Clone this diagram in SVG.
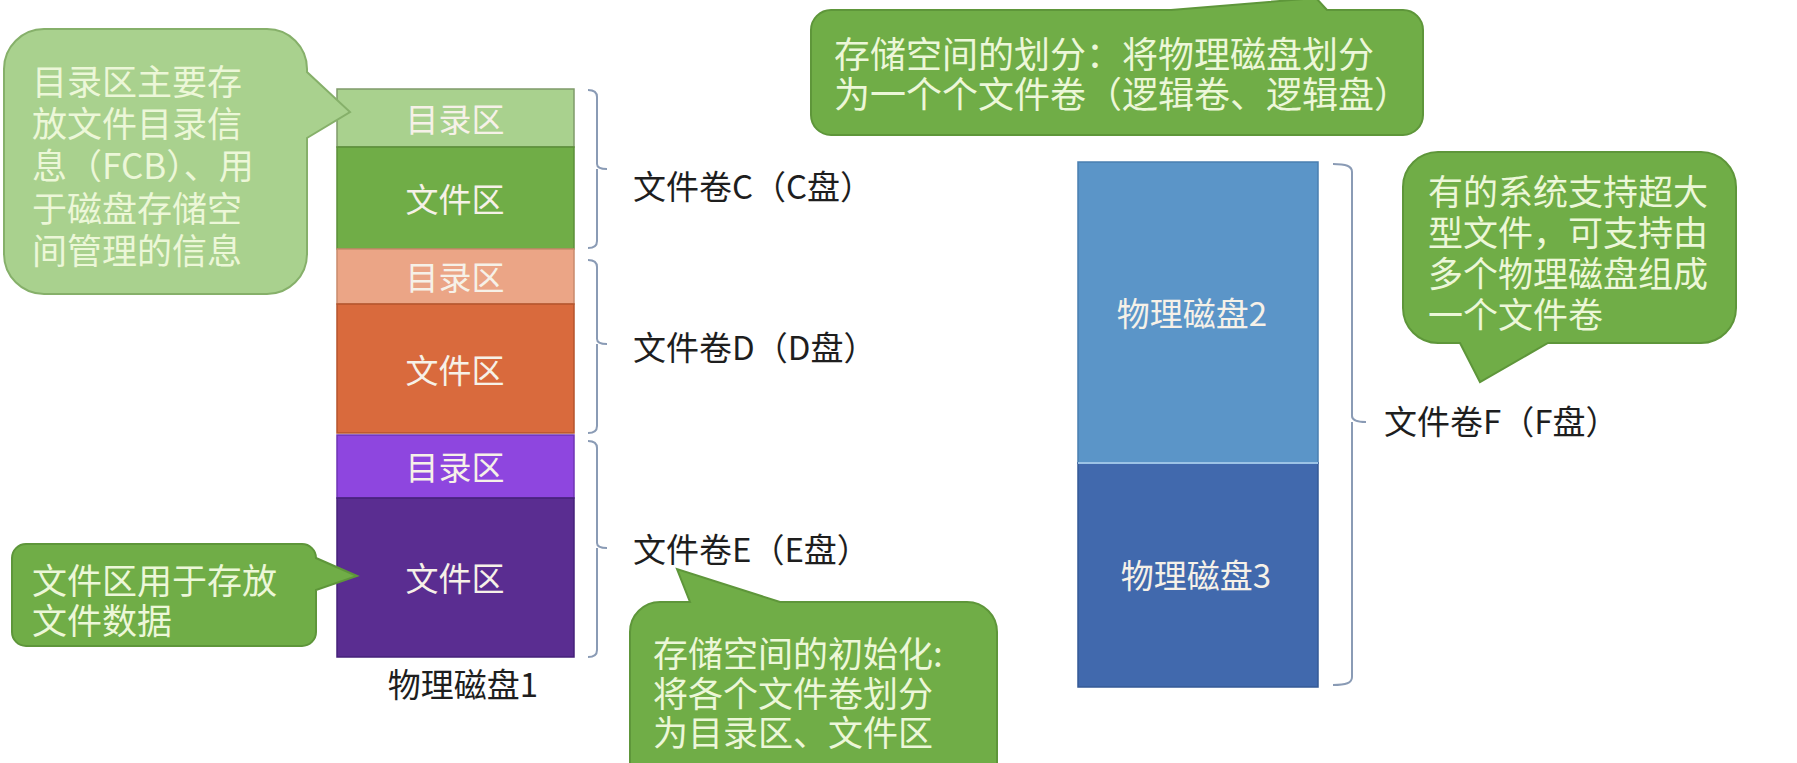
<svg xmlns="http://www.w3.org/2000/svg" width="1797" height="763" viewBox="0 0 1797 763">
<style>
  text { font-family: "Noto Sans CJK SC", "Noto Sans", sans-serif; }
  .seg { stroke-width: 1.5; }
  .segtxt { font-size: 33px; fill: #f6f1e8; text-anchor: middle; dominant-baseline: central; }
  .lbl { font-size: 33px; fill: #1e1e1e; dominant-baseline: central; }
  .call { fill: #70ad47; stroke: #5e963a; stroke-width: 2; }
  .call-light { fill: #a9d18e; stroke: #86b06a; stroke-width: 2; }
  .ctxt { font-size: 35px; fill: #ecf7d8; dominant-baseline: central; }
  .brace { fill: none; stroke: #8a9bb5; stroke-width: 2; }
</style>

<g id="disk1">
  <rect class="seg" x="337" y="89" width="237" height="58" fill="#a9d18e" stroke="#7f9a6a"/>
  <rect class="seg" x="337" y="147" width="237" height="102" fill="#70ad47" stroke="#5b8f38"/>
  <rect class="seg" x="337" y="249" width="237" height="55" fill="#eba586" stroke="#c98a6c"/>
  <rect class="seg" x="337" y="304" width="237" height="129" fill="#d96a3d" stroke="#b5542c"/>
  <rect class="seg" x="337" y="435" width="237" height="63" fill="#8e46df" stroke="#6f34b5"/>
  <rect class="seg" x="337" y="498" width="237" height="159" fill="#5a2d91" stroke="#45207a"/>
  <text class="segtxt" x="455" y="118">目录区</text>
  <text class="segtxt" x="455" y="198">文件区</text>
  <text class="segtxt" x="455" y="276">目录区</text>
  <text class="segtxt" x="455" y="369">文件区</text>
  <text class="segtxt" x="455" y="466">目录区</text>
  <text class="segtxt" x="455" y="577">文件区</text>
  <text class="lbl" x="463" y="683" text-anchor="middle">物理磁盘1</text>
</g>

<g id="disk2">
  <rect class="seg" x="1078" y="162" width="240" height="301" fill="#5b95c8" stroke="#4a7fb0"/>
  <text class="segtxt" x="1192" y="312">物理磁盘2</text>
</g>
<g id="disk3">
  <rect class="seg" x="1078" y="463" width="240" height="224" fill="#4169ad" stroke="#355a96"/>
  <line x1="1078" y1="463" x2="1318" y2="463" stroke="#9cc3e6" stroke-width="2"/>
  <text class="segtxt" x="1196" y="574">物理磁盘3</text>
</g>

<g id="connectors">
  <path class="brace" d="M588,90 C594,90 597,92 597,97 V164 C597,167 600,169 607,169 M597,169 V241 C597,246 594,248 588,248"/>
  <path class="brace" d="M588,260 C594,260 597,262 597,267 V339 C597,342 600,344 607,344 M597,344 V426 C597,431 594,433 588,433"/>
  <path class="brace" d="M588,441 C594,441 597,443 597,448 V543 C597,546 600,548 607,548 M597,548 V650 C597,655 594,657 588,657"/>
  <path class="brace" d="M1333,164 C1346,164 1352,166 1352,172 V416 C1352,420 1356,422 1366,422 M1352,422 V677 C1352,683 1346,685 1333,685"/>
</g>

<g id="vol-labels">
  <text class="lbl" x="633" y="185">文件卷C（C盘）</text>
  <text class="lbl" x="633" y="346">文件卷D（D盘）</text>
  <text class="lbl" x="633" y="548">文件卷E（E盘）</text>
  <text class="lbl" x="1384" y="420">文件卷F（F盘）</text>
</g>

<g id="callout-dir">
  <path class="call-light" d="M44,29 H267 A40,40 0 0 1 307,69 L307,72 L350,112 L307,138 V254 A40,40 0 0 1 267,294 H44 A40,40 0 0 1 4,254 V69 A40,40 0 0 1 44,29 Z"/>
  <text class="ctxt"><tspan x="32" y="79">目录区主要存</tspan><tspan x="32" y="121">放文件目录信</tspan><tspan x="32" y="163">息（FCB）、用</tspan><tspan x="32" y="206">于磁盘存储空</tspan><tspan x="32" y="248">间管理的信息</tspan></text>
</g>

<g id="callout-file">
  <path class="call" d="M26,544 H302 A14,14 0 0 1 316,558 L357,576 L316,590 V632 A14,14 0 0 1 302,646 H26 A14,14 0 0 1 12,632 V558 A14,14 0 0 1 26,544 Z"/>
  <text class="ctxt"><tspan x="32" y="578">文件区用于存放</tspan><tspan x="32" y="618">文件数据</tspan></text>
</g>

<g id="callout-partition">
  <path class="call" d="M831,10 H1171 L1316,-2 L1327,10 H1403 A20,20 0 0 1 1423,30 V115 A20,20 0 0 1 1403,135 H831 A20,20 0 0 1 811,115 V30 A20,20 0 0 1 831,10 Z"/>
  <text class="ctxt" style="font-size:36px"><tspan x="834" y="52">存储空间的划分：将物理磁盘划分</tspan><tspan x="834" y="92">为一个个文件卷（逻辑卷、逻辑盘）</tspan></text>
</g>

<g id="callout-init">
  <path class="call" d="M660,602 H690 L677,569 L780,602 H967 A30,30 0 0 1 997,632 V800 H630 V632 A30,30 0 0 1 660,602 Z"/>
  <text class="ctxt"><tspan x="653" y="651">存储空间的初始化:</tspan><tspan x="653" y="691">将各个文件卷划分</tspan><tspan x="653" y="730">为目录区、文件区</tspan></text>
</g>

<g id="callout-large">
  <path class="call" d="M1438,152 H1701 A35,35 0 0 1 1736,187 V308 A35,35 0 0 1 1701,343 H1548 L1480,382 L1460,343 H1438 A35,35 0 0 1 1403,308 V187 A35,35 0 0 1 1438,152 Z"/>
  <text class="ctxt"><tspan x="1428" y="189">有的系统支持超大</tspan><tspan x="1428" y="230">型文件，可支持由</tspan><tspan x="1428" y="271">多个物理磁盘组成</tspan><tspan x="1428" y="312">一个文件卷</tspan></text>
</g>
</svg>
